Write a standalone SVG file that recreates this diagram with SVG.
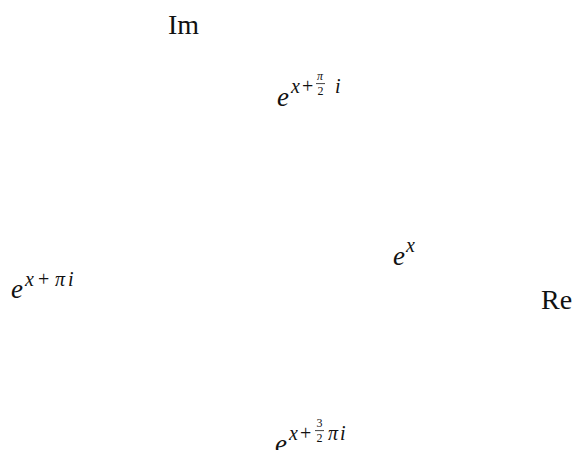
<svg xmlns="http://www.w3.org/2000/svg" width="574" height="450" viewBox="0 0 574 450">
<style>
text{font-family:"Liberation Serif","DejaVu Serif",serif;fill:#111}
.m{font-size:27px;font-style:italic}
.s{font-size:20px;font-style:italic}
.sr{font-size:20px}
.f{font-size:12px}
.fi{font-size:12px;font-style:italic}
.r{font-size:28px}
.bar{stroke:#111;stroke-width:0.8}
</style>
<rect width="574" height="450" fill="#fff"/>
<g id="im"><text class="r" x="168" y="34">Im</text></g>
<g id="re"><text class="r" x="541" y="309">Re</text></g>
<g id="e-x"><text class="m" x="393" y="265">e</text><text class="s" x="406" y="252">x</text></g>
<g id="e-pi2">
<text class="m" x="277" y="106">e</text><text class="s" x="291" y="93">x</text><text class="sr" x="302" y="93">+</text>
<text class="fi" x="317" y="80">π</text><line class="bar" x1="316" y1="83.6" x2="325" y2="83.6"/><text class="f" x="317.5" y="95">2</text>
<text class="s" x="335" y="93">i</text>
</g>
<g id="e-pi">
<text class="m" x="11" y="298">e</text><text class="s" x="25" y="286">x</text><text class="sr" x="38" y="286">+</text><text class="s" x="55" y="286">π</text><text class="s" x="68" y="286">i</text>
</g>
<g id="e-3pi2">
<text class="m" x="275" y="453">e</text><text class="s" x="289" y="440">x</text><text class="sr" x="300" y="440">+</text>
<text class="f" x="316.5" y="427">3</text><line class="bar" x1="315" y1="430.6" x2="324" y2="430.6"/><text class="f" x="316.5" y="442">2</text>
<text class="s" x="328" y="440">π</text><text class="s" x="340" y="440">i</text>
</g>
</svg>
